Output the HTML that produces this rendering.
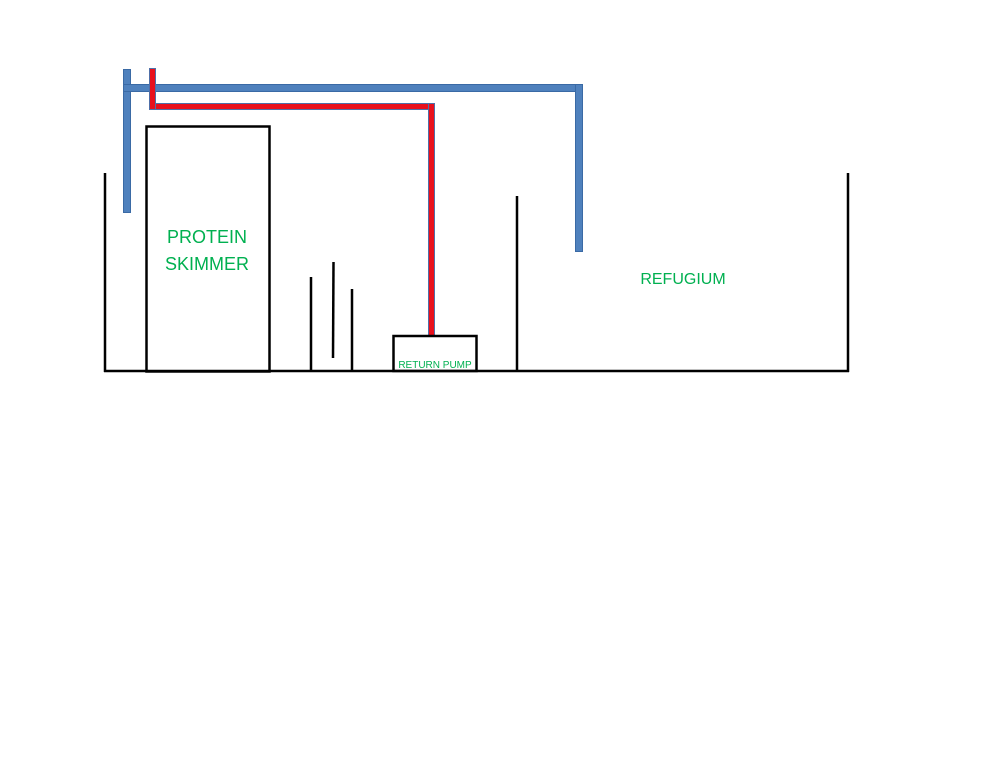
<!DOCTYPE html>
<html><head><meta charset="utf-8"><style>html,body{margin:0;padding:0;background:#fff;width:994px;height:768px;overflow:hidden}</style></head>
<body>
<svg width="994" height="768" viewBox="0 0 994 768" xmlns="http://www.w3.org/2000/svg">
<g fill="#4f81bd" stroke="#3a6aa5" stroke-width="1">
<rect x="123.5" y="69.5" width="7" height="143"/>
<rect x="123.5" y="84.5" width="459" height="7"/>
<rect x="575.5" y="84.5" width="7" height="167"/>
</g>
<g fill="#e8101c" stroke="#4f6fa8" stroke-width="1">
<rect x="149.5" y="68.5" width="6" height="41"/>
<rect x="155.5" y="103.5" width="279" height="6"/>
<rect x="428.5" y="103.5" width="6" height="232"/>
</g>
<g stroke="#000" stroke-width="2.5" fill="none">
<line x1="104" y1="371" x2="849" y2="371"/>
<line x1="105" y1="173" x2="105" y2="372"/>
<line x1="848" y1="173" x2="848" y2="372"/>
<rect x="146.5" y="126.5" width="123" height="245"/>
<line x1="311" y1="277" x2="311" y2="372"/>
<line x1="333.5" y1="262" x2="333" y2="358"/>
<line x1="352" y1="289" x2="352" y2="372"/>
<rect x="393.5" y="336" width="83" height="35"/>
<line x1="517" y1="196" x2="517" y2="372"/>
</g>
<g fill="#00b050" font-family="Liberation Sans, sans-serif" text-anchor="middle">
<text x="207" y="243" font-size="18">PROTEIN</text>
<text x="207" y="270" font-size="18">SKIMMER</text>
<text x="683" y="284" font-size="16">REFUGIUM</text>
<text x="435" y="368" font-size="10">RETURN PUMP</text>
</g>
</svg>
</body></html>
